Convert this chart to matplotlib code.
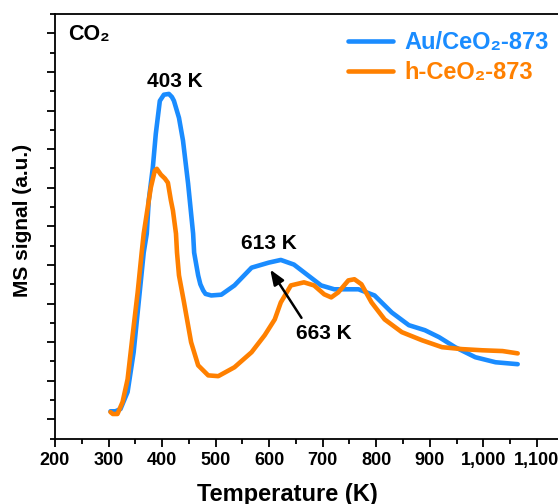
import matplotlib
matplotlib.use("Agg")
import matplotlib.pyplot as plt
from matplotlib.ticker import MultipleLocator, FuncFormatter

plt.rcParams['font.family'] = ['Liberation Sans', 'DejaVu Sans']
plt.rcParams['font.weight'] = 'bold'

# Au/CeO2-873 (blue)
au_T = [303.6, 313, 322.4, 335.6, 346.9, 356.3, 365.7, 371.4, 375.1, 382.7, 388.3, 395.8,
        403.4, 412.8, 418.4, 422.2, 431.6, 439.1, 448.6, 458, 459.9, 467.4, 471.5, 476.8, 481.2,
        491.9, 510.7, 535.2, 567.2, 599.2, 621.8, 646.3, 672.6, 697.1, 721.6, 766.8, 796.9, 829,
        861, 891, 917.4, 947.5, 985.2, 1022.9, 1064.3]
au_S = [0.21, 0.21, 0.27, 0.71, 1.74, 3.03, 4.32, 4.81, 5.67, 6.52, 7.40, 8.25,
        8.41, 8.43, 8.35, 8.25, 7.81, 7.22, 6.11, 4.81, 4.32, 3.73, 3.50, 3.34, 3.25,
        3.21, 3.23, 3.47, 3.93, 4.06, 4.13, 4.01, 3.73, 3.47, 3.37, 3.37, 3.21, 2.77,
        2.44, 2.31, 2.13, 1.87, 1.61, 1.48, 1.43]

# h-CeO2-873 (orange)
h_T = [303.6, 308, 316.7, 326.2, 335.6, 345, 354.4, 361.9, 365.7, 373.2, 378.9, 386.4, 390.2,
       397.7, 405.2, 410.9, 416.5, 420.3, 426, 427.9, 431.6, 441, 454.2, 467.4, 486.2,
       505, 535.2, 567.2, 591.7, 610.5, 621.8, 640.6, 665.1, 683.9, 702.8, 716, 729.1,
       748, 759.3, 772.4, 791.3, 815.7, 847.8, 885.4, 923.1, 960.7, 998.4, 1036, 1064.3]
h_S = [0.19, 0.14, 0.14, 0.45, 1.04, 2.18, 3.29, 4.32, 4.81, 5.49, 6.00, 6.44, 6.49,
       6.34, 6.24, 6.13, 5.67, 5.41, 4.81, 4.32, 3.73, 3.03, 2.00, 1.40, 1.14,
       1.12, 1.35, 1.74, 2.18, 2.59, 3.03, 3.47, 3.55, 3.47, 3.24, 3.16, 3.29,
       3.60, 3.63, 3.50, 3.03, 2.59, 2.26, 2.05, 1.87, 1.82, 1.79, 1.77, 1.71]

blue = '#1A8CFF'
orange = '#FF8000'

fig = plt.figure(figsize=(5.58, 5.04), dpi=100)
ax_left = 55 / 558
ax_w = 1 - ax_left + 0.01
ax = fig.add_axes([ax_left, 1 - 438.7/504, ax_w, (438.7 - 14)/504])

ax.plot(au_T, au_S, color=blue, lw=3.3, label='Au/CeO\u2082-873',
        solid_capstyle='round', solid_joinstyle='round')
ax.plot(h_T, h_S, color=orange, lw=3.3, label='h-CeO\u2082-873',
        solid_capstyle='round', solid_joinstyle='round')

ax.set_xlim(200, 1150)
ax.set_ylim(-0.5, 10.5)
ax.xaxis.set_major_locator(MultipleLocator(100))
ax.xaxis.set_minor_locator(MultipleLocator(50))
ax.yaxis.set_major_locator(MultipleLocator(1))
ax.yaxis.set_minor_locator(MultipleLocator(0.5))
ax.xaxis.set_major_formatter(FuncFormatter(lambda v, p: f"{int(round(v)):,}"))
ax.tick_params(axis='both', which='major', direction='out', length=6, width=1.3, labelsize=13)
ax.tick_params(axis='both', which='minor', direction='out', length=3.5, width=1.3)
ax.tick_params(axis='y', which='both', labelleft=False)
for lab in ax.get_xticklabels():
    lab.set_fontweight('bold')
for s in ['left', 'bottom', 'top']:
    ax.spines[s].set_linewidth(1.3)
ax.spines['right'].set_visible(False)

axw_px = ax_w * 558
axh_px = 438.7 - 14
ax.set_xlabel('Temperature (K)', fontsize=17, fontweight='bold')
ax.xaxis.set_label_coords((287 - 55) / axw_px, -(494 - 438.7) / axh_px)
ax.xaxis.label.set_va('center')
ax.set_ylabel('MS signal (a.u.)', fontsize=15, fontweight='bold')
ax.yaxis.set_label_coords(-(55 - 23) / axw_px, (438.7 - 220) / axh_px)
ax.yaxis.label.set_va('center')

ax.text(224.5, 9.98, 'CO\u2082', fontsize=15.5, fontweight='bold', va='center', ha='left')
ax.text(423, 8.74, '403 K', fontsize=15, fontweight='bold', va='center', ha='center')
ax.text(599, 4.56, '613 K', fontsize=15, fontweight='bold', va='center', ha='center')
ax.text(702, 2.23, '663 K', fontsize=15, fontweight='bold', va='center', ha='center')
ax.annotate('', xy=(599.2, 3.94), xytext=(663.2, 2.57),
            arrowprops=dict(arrowstyle='-|>,head_length=0.9,head_width=0.35', color='black', lw=1.8))

leg = ax.legend(loc='upper left', bbox_to_anchor=((348 - 55) / axw_px, 1.0 - 17 / axh_px),
                frameon=False, handlelength=1.9, handletextpad=0.5, labelspacing=0.3,
                labelcolor='linecolor', borderaxespad=0, borderpad=0,
                prop={'weight': 'bold', 'size': 17})

fig.savefig('out.png', dpi=100)
